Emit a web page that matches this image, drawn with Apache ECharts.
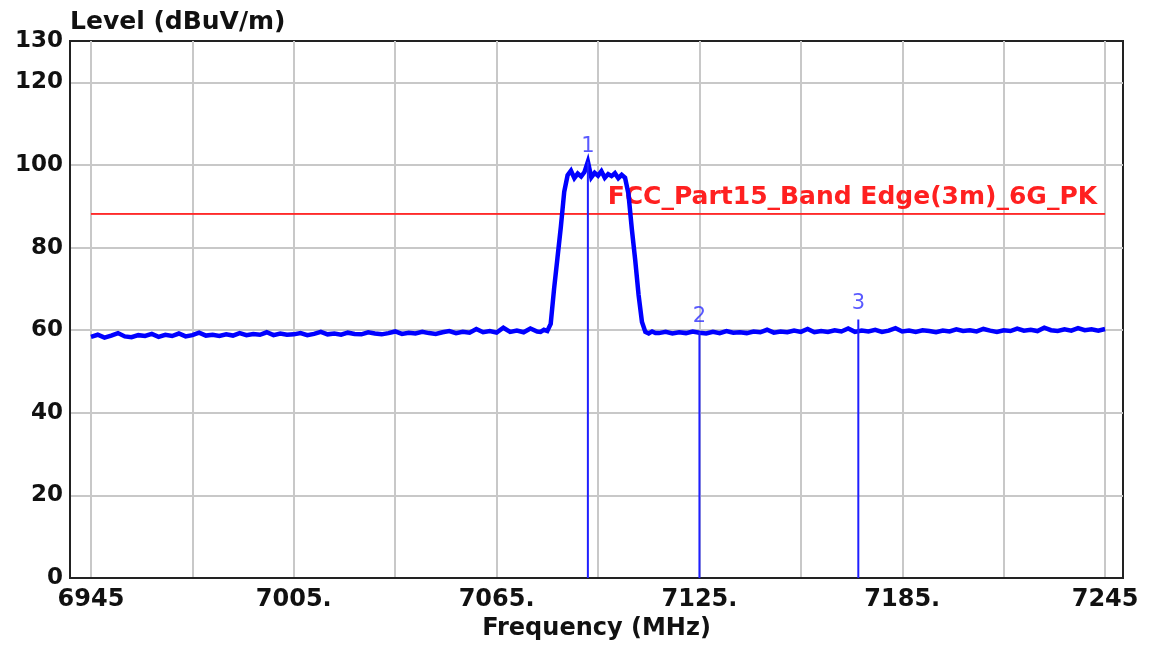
<!DOCTYPE html>
<html>
<head>
<meta charset="utf-8">
<title>Level (dBuV/m) vs Frequency (MHz)</title>
<script src="https://cdn.jsdelivr.net/npm/echarts@6.0.0/dist/echarts.min.js"></script>
<style>
html, body { margin: 0; padding: 0; background: #fff; }
#chart { width: 1149px; height: 646px; }
</style>
</head>
<body>
<div id="chart"></div>
<script>
// noise floor left of the channel, 2 MHz steps from 6945
const floorLeftStart = 6945;
const floorLeft = [
  58.4, 58.9, 58.2, 58.7, 59.3, 58.5, 58.3, 58.8, 58.6, 59.1,
  58.4, 58.9, 58.6, 59.2, 58.5, 58.8, 59.4, 58.7, 58.9, 58.6,
  59.0, 58.7, 59.3, 58.8, 59.1, 58.9, 59.5, 58.8, 59.2, 58.9,
  59.0, 59.3, 58.8, 59.1, 59.6, 59.0, 59.2, 58.9, 59.4, 59.1,
  59.0, 59.5, 59.2, 59.0, 59.3, 59.7, 59.1, 59.4, 59.2, 59.6,
  59.3, 59.1, 59.5, 59.8, 59.3, 59.6, 59.4, 60.3, 59.5, 59.8,
  59.4, 60.6, 59.6, 59.9, 59.5, 60.4, 59.7
];
// channel, 1 MHz steps from 7078
const channelStart = 7078;
const channel = [
  59.6, 60.1, 59.8, 61.5, 70.0, 77.5, 85.0, 93.5, 97.5, 98.6,
  96.8, 97.9, 97.2, 98.3, 100.8, 97.0, 98.1, 97.4, 98.5, 96.9,
  97.8, 97.3, 98.0, 96.8, 97.6, 96.9, 93.0, 84.5, 77.0, 68.5,
  62.0, 59.6, 59.2, 59.7, 59.3
];
// noise floor right of the channel, 2 MHz steps from 7113
const floorRightStart = 7113;
const floorRight = [
  59.3, 59.6, 59.2, 59.5, 59.3, 59.7, 59.4, 59.2, 59.6, 59.3,
  59.8, 59.4, 59.5, 59.3, 59.7, 59.5, 60.1, 59.4, 59.7, 59.5,
  59.9, 59.6, 60.3, 59.5, 59.8, 59.6, 60.0, 59.7, 60.4, 59.6,
  59.9, 59.7, 60.1, 59.6, 59.9, 60.5, 59.7, 59.9, 59.6, 60.0,
  59.8, 59.5, 59.9, 59.7, 60.2, 59.8, 60.0, 59.7, 60.3, 59.9,
  59.6, 60.0, 59.8, 60.4, 59.9, 60.1, 59.8, 60.6, 60.0, 59.8,
  60.2, 59.9, 60.5, 60.0, 60.2, 59.9, 60.3
];

const markerFreq = [7092, 7125, 7172];
const markerLevel = [100.8, 59.6, 62.6];
const markerName = ["1", "2", "3"];

const limitFreq = [6945, 7245];
const limitLevel = 88.2;
const limitName = "FCC_Part15_Band Edge(3m)_6G_PK";

const freqLabels = [6945, 7005, 7065, 7125, 7185, 7245];
const freqGrid = [6945, 6975, 7005, 7035, 7065, 7095, 7125, 7155, 7185, 7215, 7245];
const levelLabels = [0, 20, 40, 60, 80, 100, 120, 130];
const levelGrid = [0, 20, 40, 60, 80, 100, 120];

const trace = [];
floorLeft.forEach((v, i) => trace.push([floorLeftStart + i * 2, v]));
channel.forEach((v, i) => trace.push([channelStart + i, v]));
floorRight.forEach((v, i) => trace.push([floorRightStart + i * 2, v]));

const font = "DejaVu Sans";

const series = [
  {
    name: "limit",
    type: "line",
    data: limitFreq.map(f => [f, limitLevel]),
    symbol: "none",
    lineStyle: { color: "#ff2a2a", width: 1.5 },
    z: 1,
    markLine: {
      silent: true,
      z: 1,
      symbol: "none",
      lineStyle: { color: "#ff2a2a", width: 1.5, type: "solid" },
      label: {
        show: true,
        position: "insideEndTop",
        distance: [8, 4],
        formatter: limitName,
        color: "#ff2020",
        fontFamily: font,
        fontWeight: "bold",
        fontSize: 25
      },
      data: [[{ coord: [limitFreq[0], limitLevel] }, { coord: [limitFreq[1], limitLevel] }]]
    }
  },
  {
    name: "trace",
    type: "line",
    data: trace,
    symbol: "none",
    lineStyle: { color: "#0000ff", width: 4.5, join: "miter" },
    z: 3
  }
];

markerFreq.forEach((f, i) => {
  series.push({
    name: "marker" + markerName[i],
    type: "line",
    data: [[f, 0], [f, markerLevel[i]]],
    symbol: "none",
    lineStyle: { color: "#1f1fff", width: 2 },
    z: 4
  });
});

series.push({
  name: "markerLabels",
  type: "scatter",
  data: markerFreq.map((f, i) => ({ value: [f, markerLevel[i]], name: markerName[i] })),
  symbolSize: 0,
  label: {
    show: true,
    position: "top",
    distance: 5,
    formatter: p => p.name,
    color: "#3030ff",
    fontFamily: font,
    fontSize: 21
  },
  z: 5
});

const option = {
  animation: false,
  backgroundColor: "#fff",
  grid: {
    left: 70,
    right: 26,
    top: 41,
    bottom: 63,
    show: true,
    borderColor: "#222",
    borderWidth: 2
  },
  xAxis: {
    type: "value",
    min: 6938.8,
    max: 7250.3,
    name: "Frequency (MHz)",
    nameLocation: "middle",
    nameGap: 34,
    nameTextStyle: { color: "#111", fontFamily: font, fontWeight: "bold", fontSize: 24 },
    axisLine: { show: true, onZero: false, lineStyle: { color: "#222", width: 2 } },
    axisTick: { show: false, customValues: freqGrid },
    splitLine: { show: true, lineStyle: { color: "#c8c8c8", width: 2 } },
    axisLabel: {
      customValues: freqLabels,
      margin: 10,
      color: "#111",
      fontFamily: font,
      fontWeight: "bold",
      fontSize: 24,
      formatter: v => (v === freqLabels[0] || v === freqLabels[freqLabels.length - 1]) ? String(v) : v + "."
    }
  },
  yAxis: {
    type: "value",
    min: 0,
    max: 130,
    name: "Level (dBuV/m)",
    nameLocation: "end",
    nameGap: 6,
    nameTextStyle: {
      color: "#111",
      fontFamily: font,
      fontWeight: "bold",
      fontSize: 25,
      align: "left",
      verticalAlign: "bottom"
    },
    axisLine: { show: true, onZero: false, lineStyle: { color: "#222", width: 2 } },
    axisTick: { show: false, customValues: levelGrid },
    splitLine: { show: true, lineStyle: { color: "#c8c8c8", width: 2 } },
    axisLabel: {
      customValues: levelLabels,
      margin: 7,
      color: "#111",
      fontFamily: font,
      fontWeight: "bold",
      fontSize: 23
    }
  },
  series: series
};

const chart = echarts.init(document.getElementById("chart"));
chart.setOption(option);
</script>
</body>
</html>
